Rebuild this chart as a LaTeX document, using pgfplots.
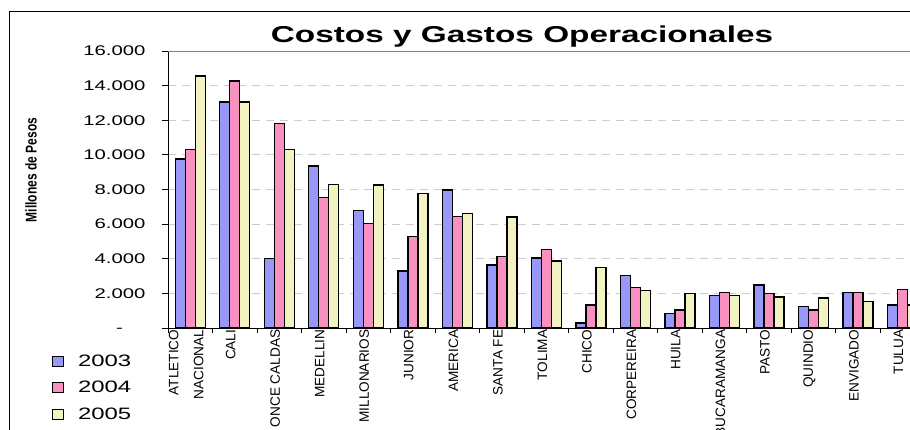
\documentclass[border=0pt]{standalone}
\usepackage{pgfplots}
\usepackage{pgfplotstable}
\pgfplotsset{compat=1.18}
\usepackage{fontspec}
\setmainfont{Liberation Sans}
\newfontfamily\wf[FakeStretch=1.45]{Liberation Sans}
\definecolor{cA}{HTML}{9898F8}
\definecolor{cB}{HTML}{F890C0}
\definecolor{cC}{HTML}{F2F2C2}
\pgfplotstableread{
x a b c
0 9750 10300 14550
1 13050 14270 13050
2 4000 11800 10300
3 9350 7550 8300
4 6800 6050 8250
5 3300 5300 7780
6 7980 6450 6600
7 3650 4120 6400
8 4050 4550 3870
9 300 1330 3500
10 3020 2330 2150
11 850 1050 2000
12 1870 2060 1870
13 2480 2000 1790
14 1250 1050 1730
15 2060 2060 1520
16 1330 2210 1330
}\data
\begin{document}
\begin{tikzpicture}
\useasboundingbox (0pt,0pt) rectangle (910pt,430pt);
\draw[line width=1pt] (9pt,-5pt) -- (9pt,418pt) -- (915pt,418pt);
\node[font=\wf\bfseries\fontsize{23}{26}\selectfont] at (522pt,393pt) {Costos y Gastos Operacionales};
\node[rotate=90] at (31pt,260pt) {\scalebox{1}[1.3]{\bfseries\fontsize{12}{14}\selectfont Millones de Pesos}};
\begin{axis}[
  at={(168pt,102pt)}, anchor=south west, scale only axis,
  width=742pt, height=277pt,
  ymin=0, ymax=16000, xmin=-0.5, xmax=16.17,
  axis x line*=bottom, axis y line*=left,
  axis line style={-, black, line width=0.8pt},
  ytick={0,2000,4000,6000,8000,10000,12000,14000},
  yticklabels={-\phantom{00},2.000,4.000,6.000,8.000,10.000,12.000,14.000},
  extra y ticks={16000}, extra y tick labels={16.000},
  extra y tick style={major grid style={solid, gray, line width=0.8pt}},
  ymajorgrids,
  major grid style={color=gray!40, dash pattern=on 8pt off 6pt, line width=0.8pt},
  scaled y ticks=false,
  yticklabel style={font=\wf\fontsize{14}{16}\selectfont},
  yticklabel shift=13pt,
  tick align=outside,
  major tick length=6pt, minor tick length=5pt,
  tick style={black, line width=0.8pt},
  xtick={0,...,16},
  major x tick style={draw=none},
  minor xtick={-0.5,0.5,...,16.5},
  xticklabels={{ATLETICO\\NACIONAL},CALI,ONCE CALDAS,MEDELLIN,MILLONARIOS,JUNIOR,AMERICA,SANTA FE,TOLIMA,CHICO,CORPEREIRA,HUILA,BUCARAMANGA,PASTO,QUINDIO,ENVIGADO,TULUA},
  xticklabel style={xshift=-4pt, rotate=90, anchor=east, align=right, font=\fontsize{13.6}{25}\selectfont, inner sep=1pt},
  xticklabel shift=-5.5pt,
  ybar=0pt, bar width=10pt,
  every axis plot/.append style={draw=black, line width=1.4pt},
  legend image code/.code={\draw[#1, draw=black, line width=0.8pt] (0pt,-5pt) rectangle (11pt,5pt);},
  legend style={at={(axis description cs:-0.1563,-0.089)}, anchor=north west, draw=none, fill=none,
    font=\wf\fontsize{16.5}{18}\selectfont, row sep=9.5pt, inner sep=0pt,
    /tikz/every odd column/.append style={column sep=12pt}},
  legend cell align=left,
]
\addplot[fill=cA] table[x=x,y=a]{\data};
\addplot[fill=cB] table[x=x,y=b]{\data};
\addplot[fill=cC] table[x=x,y=c]{\data};
\legend{2003,2004,2005}
\end{axis}
\end{tikzpicture}
\end{document}
